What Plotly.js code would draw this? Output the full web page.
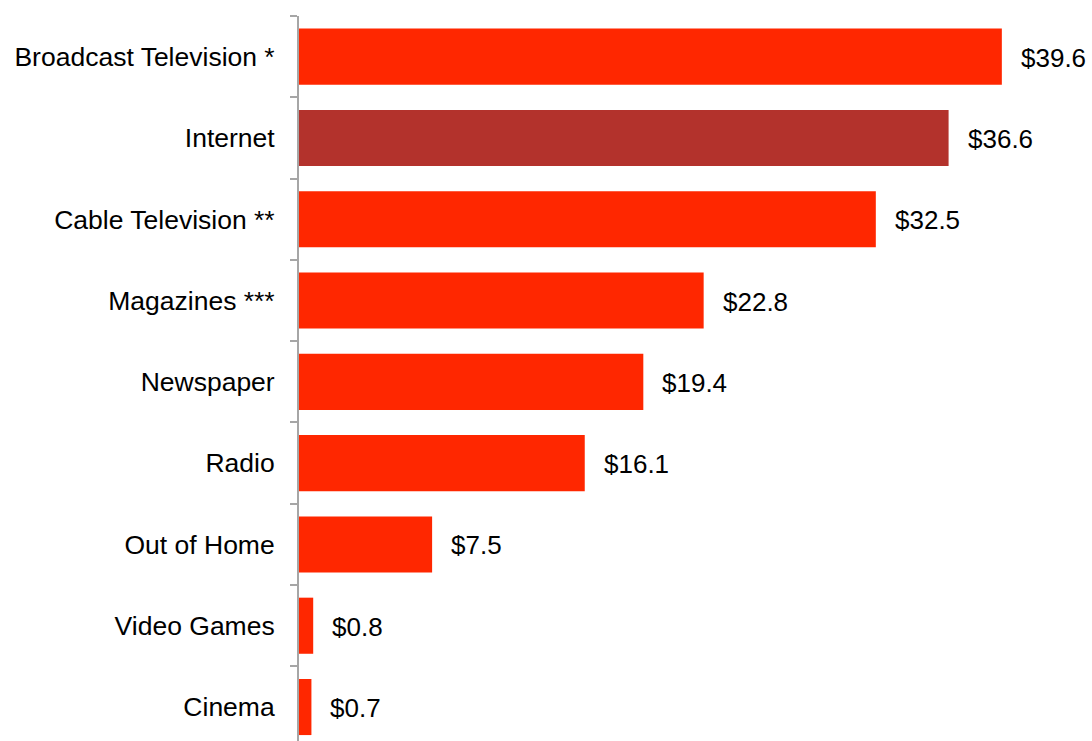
<!DOCTYPE html>
<html><head><meta charset="utf-8">
<script src="https://cdn.plot.ly/plotly-3.0.1.min.js"></script>
<style>html,body{margin:0;padding:0;background:#fff}#chart{width:1092px;height:741px}</style>
</head><body><div id="chart"></div>
<script>
const categories = ["Broadcast Television *","Internet","Cable Television **","Magazines ***","Newspaper","Radio","Out of Home","Video Games","Cinema"];
const values = [39.6,36.6,32.5,22.8,19.4,16.1,7.5,0.8,0.7];
const barColors = ["#FF2700","#B3322C","#FF2700","#FF2700","#FF2700","#FF2700","#FF2700","#FF2700","#FF2700"];
const labels = values.map(v => "$" + v.toFixed(1));

const font = {family: "Liberation Sans, Arial, sans-serif", size: 26, color: "#000"};
const tickFont = {family: "Liberation Sans, Arial, sans-serif", size: 26.5, color: "#000"};
const trace = {
  type: "bar", orientation: "h",
  x: values, y: categories,
  marker: {color: barColors, line: {width: 0}},
  hoverinfo: "skip"
};
const annotations = values.map((v,i) => ({
  x: v, y: categories[i], xref: "x", yref: "y",
  text: labels[i], showarrow: false, xanchor: "left", yanchor: "middle",
  xshift: 17, yshift: -1, font: font
}));
const layout = {
  width: 1092, height: 741,
  margin: {l: 299, r: 0, t: 16, b: 0, pad: 0},
  paper_bgcolor: "#fff", plot_bgcolor: "#fff",
  bargap: 0.31,
  showlegend: false,
  xaxis: {range: [0, 44.68], visible: false, fixedrange: true},
  yaxis: {
    type: "category", range: [8.418, -0.5],
    showline: true, linecolor: "#A6A6A6", linewidth: 2,
    ticks: "outside", tickson: "boundaries", ticklen: 7, tickwidth: 2, tickcolor: "#A6A6A6",
    ticklabelstandoff: 17,
    showgrid: false, zeroline: false, tickfont: tickFont
  },
  annotations: annotations,
  font: font
};
Plotly.newPlot("chart", [trace], layout, {displayModeBar: false, staticPlot: true});
</script></body></html>
